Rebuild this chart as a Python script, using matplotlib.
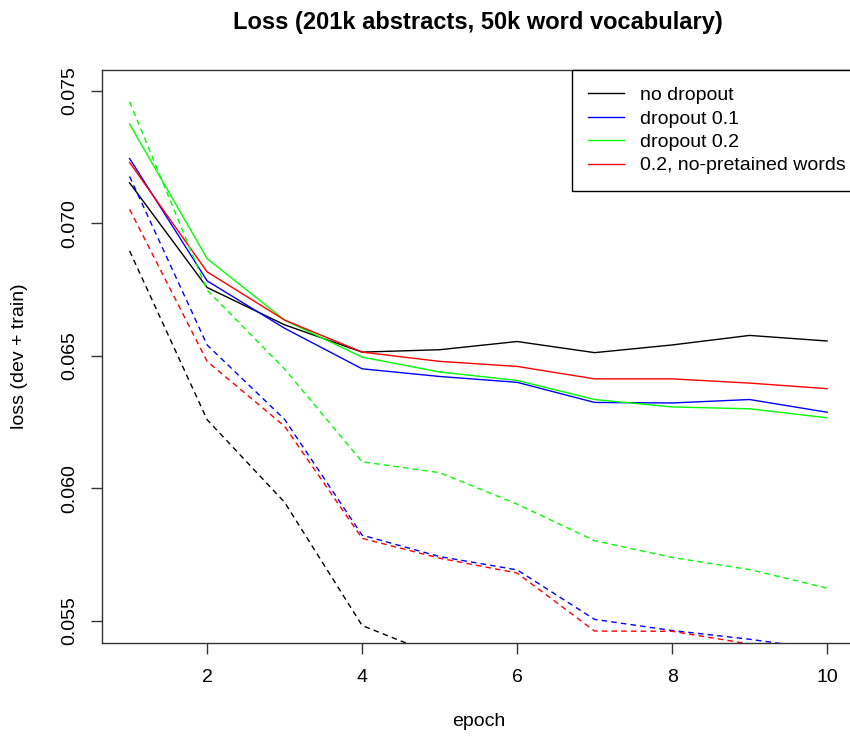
import matplotlib
matplotlib.use("Agg")
import matplotlib.pyplot as plt

plt.rcParams['font.family'] = ['Liberation Sans', 'DejaVu Sans']

epochs = [1, 2, 3, 4, 5, 6, 7, 8, 9, 10]

# solid lines (dev loss)
no_drop = [0.07153, 0.06758, 0.06617, 0.06514, 0.06523, 0.06554, 0.06512, 0.06541, 0.06577, 0.06556]
drop_01 = [0.07245, 0.06783, 0.06604, 0.06451, 0.06422, 0.06400, 0.06324, 0.06322, 0.06335, 0.06287]
drop_02 = [0.07375, 0.06867, 0.06635, 0.06495, 0.06439, 0.06407, 0.06335, 0.06307, 0.06300, 0.06266]
no_pre = [0.07230, 0.06817, 0.06635, 0.06514, 0.06479, 0.06460, 0.06413, 0.06413, 0.06397, 0.06376]

# dashed lines (train loss)
no_drop_tr = [0.06896, 0.06259, 0.05947, 0.05482, 0.05365, 0.05300, 0.05250, 0.05210, 0.05180, 0.05160]
drop_01_tr = [0.07177, 0.06541, 0.06260, 0.05823, 0.05742, 0.05692, 0.05505, 0.05463, 0.05430, 0.05390]
drop_02_tr = [0.07459, 0.06748, 0.06450, 0.06100, 0.06059, 0.05940, 0.05802, 0.05739, 0.05693, 0.05623]
no_pre_tr = [0.07053, 0.06479, 0.06234, 0.05811, 0.05736, 0.05680, 0.05461, 0.05460, 0.05412, 0.05370]

labels = ['no dropout', 'dropout 0.1', 'dropout 0.2', '0.2, no-pretained words']
colors = ['black', 'blue', '#00ff00', 'red']

W, H = 850, 736
fig = plt.figure(figsize=(W / 100, H / 100), dpi=100)
x0, x1, y0, y1 = 101.7, 855, 70, 642.7
ax = fig.add_axes([x0 / W, 1 - y1 / H, (x1 - x0) / W, (y1 - y0) / H])

dev = [no_drop, drop_01, drop_02, no_pre]
train = [no_drop_tr, drop_01_tr, drop_02_tr, no_pre_tr]
for d, lab, c in zip(dev, labels, colors):
    ax.plot(epochs, d, color=c, lw=1.0, label=lab)
for t, c in zip(train, colors):
    ax.plot(epochs, t, color=c, lw=1.0, linestyle=(0, (4, 3)))

ax.set_xlim(0.64, 10.36)
ax.set_ylim(0.05417, 0.07579)
ax.set_xticks([2, 4, 6, 8, 10])
ax.set_yticks([0.055, 0.060, 0.065, 0.070, 0.075])
ax.set_yticklabels(['0.055', '0.060', '0.065', '0.070', '0.075'], rotation=90, va='center')
ax.tick_params(length=8, width=1, labelsize=14, color='#333333')
ax.tick_params(axis='x', pad=11)
ax.tick_params(axis='y', pad=9)
for s in ax.spines.values():
    s.set_color('#333333')
    s.set_linewidth(1.0)

xc = (x0 + x1) / 2 / W
fig.text(xc, 1 - 722 / H, 'epoch', ha='center', va='center', fontsize=14)
fig.text(20 / W, 1 - (y0 + y1) / 2 / H, 'loss (dev + train)', ha='center', va='center',
         rotation=90, fontsize=14)
fig.text(xc, 1 - 22 / H, 'Loss (201k abstracts, 50k word vocabulary)',
         ha='center', va='center', fontsize=17, fontweight='bold')

# legend box sticks out past the right edge like the R original
leg = ax.legend(loc='upper right', bbox_to_anchor=(1 + 7 / (x1 - x0), 1), borderaxespad=0,
                fontsize=14, fancybox=False, framealpha=1, edgecolor='black',
                handlelength=1.85, handletextpad=0.8, labelspacing=0.3, borderpad=0.85)
leg.get_frame().set_linewidth(1.0)

fig.savefig('out.png', dpi=100)
